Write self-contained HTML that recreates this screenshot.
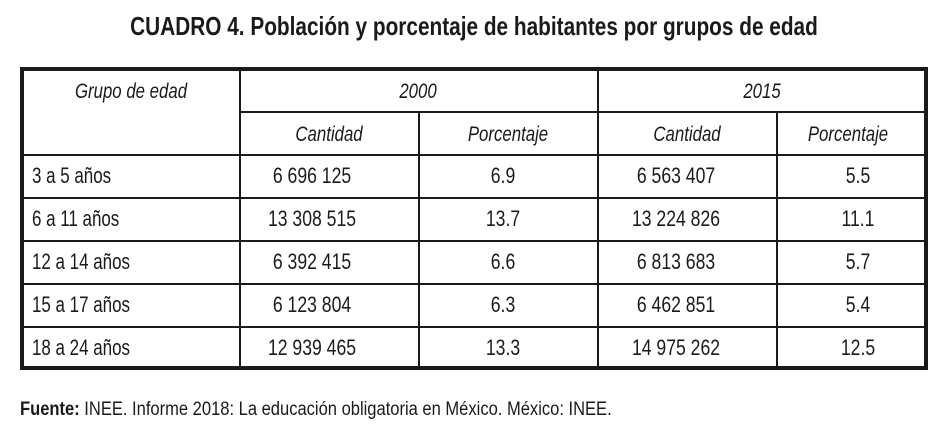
<!DOCTYPE html>
<html><head><meta charset="utf-8"><style>
body{margin:0;width:952px;height:433px;background:#fff;position:relative;overflow:hidden;font-family:"Liberation Sans",sans-serif;color:#1a1a1a}
.t{position:absolute;white-space:nowrap;line-height:1}
.t span{display:inline-block;transform:scaleX(.8)}
.c{transform:translateX(-50%)}
.c span{transform-origin:center}
.l span{transform-origin:left}
.i{font-style:italic}
.ln{position:absolute;background:#1a1a1a}
</style></head><body>
<div class="t c" style="left:474px;top:13px;font-size:26px;font-weight:bold"><span>CUADRO 4. Población y porcentaje de habitantes por grupos de edad</span></div>

<div style="position:absolute;left:20px;top:67px;width:900px;height:295px;border:4px solid #1a1a1a"></div>
<div class="ln" style="left:239px;top:70px;width:1.5px;height:297px"></div>
<div class="ln" style="left:418px;top:111px;width:1.5px;height:256px"></div>
<div class="ln" style="left:597px;top:70px;width:1.5px;height:297px"></div>
<div class="ln" style="left:776px;top:111px;width:1.5px;height:256px"></div>
<div class="ln" style="left:239px;top:111px;width:685px;height:1.5px"></div>
<div class="ln" style="left:22px;top:154px;width:902px;height:1.5px"></div>
<div class="ln" style="left:22px;top:197px;width:902px;height:1.5px"></div>
<div class="ln" style="left:22px;top:240px;width:902px;height:1.5px"></div>
<div class="ln" style="left:22px;top:283px;width:902px;height:1.5px"></div>
<div class="ln" style="left:22px;top:326px;width:902px;height:1.5px"></div>

<div class="t c i" style="left:131px;top:81px;font-size:21px"><span>Grupo de edad</span></div>
<div class="t c i" style="left:418px;top:81px;font-size:21px"><span>2000</span></div>
<div class="t c i" style="left:762px;top:81px;font-size:21px"><span>2015</span></div>
<div class="t c i" style="left:329px;top:124px;font-size:21px"><span>Cantidad</span></div>
<div class="t c i" style="left:508px;top:124px;font-size:21px"><span>Porcentaje</span></div>
<div class="t c i" style="left:687px;top:124px;font-size:21px"><span>Cantidad</span></div>
<div class="t c i" style="left:848px;top:124px;font-size:21px"><span>Porcentaje</span></div>

<div id="rows"></div>

<div class="t l" style="left:20px;top:400px;font-size:19px"><span style="transform:scaleX(.87)"><b>Fuente:</b> INEE. Informe 2018: La educación obligatoria en México. México: INEE.</span></div>

<script>
const groups=["3 a 5 años","6 a 11 años","12 a 14 años","15 a 17 años","18 a 24 años"];
const cant2000=["6 696 125","13 308 515","6 392 415","6 123 804","12 939 465"];
const pct2000=["6.9","13.7","6.6","6.3","13.3"];
const cant2015=["6 563 407","13 224 826","6 813 683","6 462 851","14 975 262"];
const pct2015=["5.5","11.1","5.7","5.4","12.5"];
const root=document.getElementById('rows');
function cell(txt,x,y,center,name,sx){
  const d=document.createElement('div');
  d.className='t '+(center?'c':'l');
  d.style.left=x+'px';d.style.top=y+'px';d.style.fontSize='22px';
  
  
  const s=document.createElement('span');s.textContent=txt;
  if(sx)s.style.transform='scaleX('+sx+')';
  d.appendChild(s);
  root.appendChild(d);
}
groups.forEach((g,i)=>{
  const y=165+i*43;
  cell(g,32,y,false,'row-label',0.77);
  cell(cant2000[i],312,y,true,'cantidad-2000');
  cell(pct2000[i],503,y,true,'porcentaje-2000');
  cell(cant2015[i],676,y,true,'cantidad-2015');
  cell(pct2015[i],858,y,true,'porcentaje-2015');
});
</script>
</body></html>
